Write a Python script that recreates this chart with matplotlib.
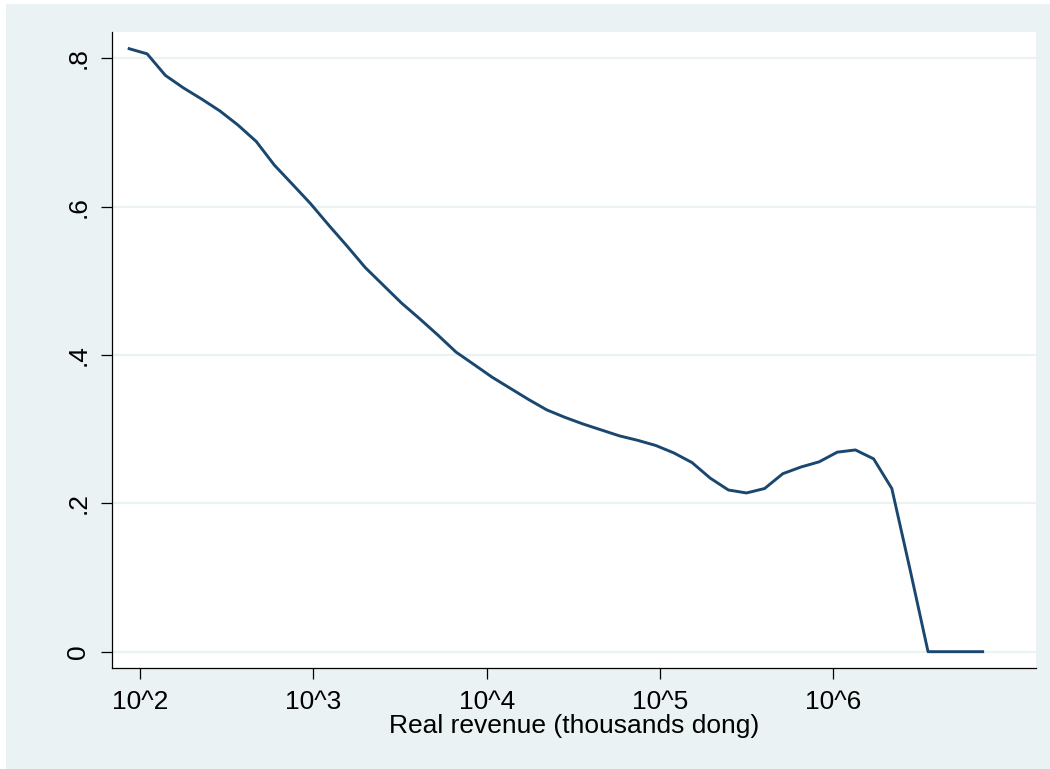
import numpy as np
import matplotlib
matplotlib.use('Agg')
import matplotlib.pyplot as plt
from matplotlib.patches import Rectangle

plt.rcParams['font.family'] = ['Liberation Sans', 'DejaVu Sans']
plt.rcParams['font.size'] = 19

# log10 of real revenue (thousands dong) and the estimated share at each point
log_rev = [1.937, 2.041, 2.146, 2.251, 2.356, 2.461, 2.565, 2.670, 2.775, 2.880,
           2.984, 3.089, 3.194, 3.299, 3.404, 3.509, 3.613, 3.718, 3.823, 3.928,
           4.032, 4.137, 4.242, 4.347, 4.451, 4.556, 4.661, 4.766, 4.871, 4.976,
           5.080, 5.185, 5.290, 5.395, 5.499, 5.604, 5.709, 5.814, 5.919, 6.023,
           6.128, 6.233, 6.338, 6.442, 6.547, 6.652, 6.757, 6.862]
share = [0.813, 0.806, 0.777, 0.760, 0.745, 0.729, 0.710, 0.688, 0.656, 0.630,
         0.604, 0.575, 0.547, 0.518, 0.494, 0.470, 0.449, 0.427, 0.404, 0.387,
         0.370, 0.355, 0.340, 0.326, 0.316, 0.307, 0.299, 0.291, 0.285, 0.278,
         0.268, 0.255, 0.234, 0.218, 0.214, 0.220, 0.240, 0.249, 0.256, 0.269,
         0.272, 0.260, 0.220, 0.112, 0.0, 0.0, 0.0, 0.0]

xticks = [1e2, 1e3, 1e4, 1e5, 1e6]
xticklabels = ['10^2', '10^3', '10^4', '10^5', '10^6']
yticks = [0, 0.2, 0.4, 0.6, 0.8]
yticklabels = ['0', '.2', '.4', '.6', '.8']

bg = '#EAF2F3'
navy = '#1A476F'

fig = plt.figure(figsize=(10.5, 7.69), dpi=100, facecolor='white')
# graph region background, with a thin white margin at top and left
fig.patches.append(Rectangle((6 / 1050, 0), 1 - 6 / 1050, 1 - 4 / 769,
                             transform=fig.transFigure, facecolor=bg,
                             edgecolor='none', zorder=-10))

ax = fig.add_axes([112 / 1050, 101 / 769, 924 / 1050, 636 / 769])
ax.set_facecolor('white')

x = 10 ** np.array(log_rev)
ax.plot(x, share, color=navy, lw=2.1, zorder=3)

ax.set_xscale('log')
ax.set_xlim(10 ** 1.838, 10 ** 7.170)
ax.set_ylim(-0.022, 0.8355)

ax.set_xticks(xticks)
ax.set_xticklabels(xticklabels)
ax.xaxis.set_minor_locator(matplotlib.ticker.NullLocator())
ax.set_yticks(yticks)
ax.set_yticklabels(yticklabels, rotation=90, va='center')

ax.grid(axis='y', color=bg, lw=1.6, zorder=1)
ax.set_axisbelow(True)

for s in ['top', 'right']:
    ax.spines[s].set_visible(False)
for s in ['left', 'bottom']:
    ax.spines[s].set_linewidth(0.9)
    ax.spines[s].set_color('black')

ax.tick_params(axis='both', length=7.7, width=0.9, color='black', pad=8)

ax.set_xlabel('Real revenue (thousands dong)', labelpad=0)

fig.savefig('out.png', dpi=100, facecolor=fig.get_facecolor())
